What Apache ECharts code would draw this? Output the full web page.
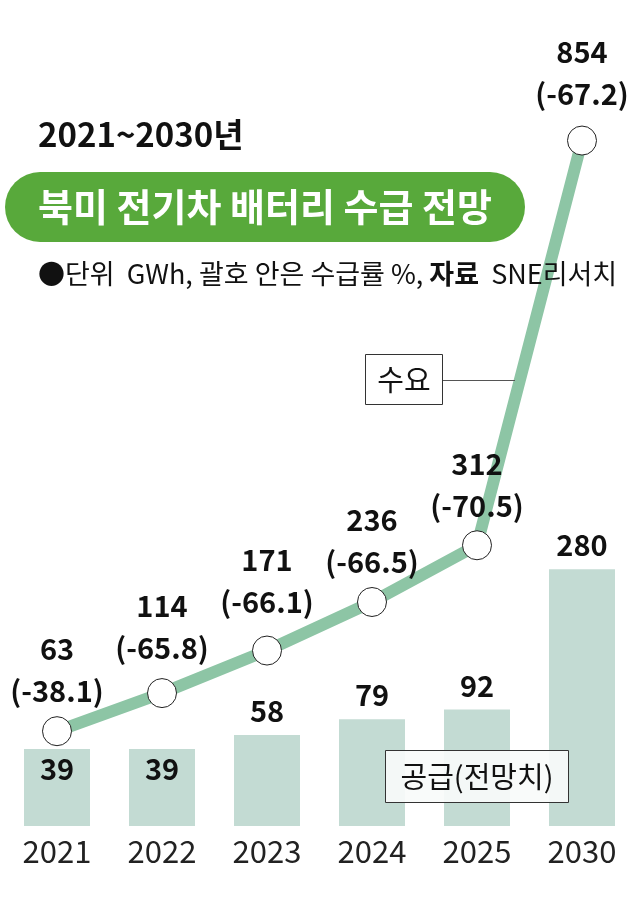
<!DOCTYPE html>
<html><head><meta charset="utf-8">
<script src="https://cdn.jsdelivr.net/npm/echarts@6/dist/echarts.min.js"></script>
<style>html,body{margin:0;padding:0;background:#fff}#c{width:640px;height:922px}</style>
</head><body><div id="c"></div>
<script>
const categories = ['2021', '2022', '2023', '2024', '2025', '2030'];
const demand = [63, 114, 171, 236, 312, 854];
const demandRate = ['-38.1', '-65.8', '-66.1', '-66.5', '-70.5', '-67.2'];
const supply = [39, 39, 58, 79, 92, 280];
const supplyLabelInside = [true, true, false, false, false, false];
const demandLabelGap = [4, 9, 13, 4, 3, 11];

const FONT = "'Noto Sans CJK KR', 'Noto Sans', sans-serif";
const chart = echarts.init(document.getElementById('c'), null, {renderer: 'canvas'});

const labelStyle = {fontFamily: FONT, fontWeight: 'bold', fontSize: 29, color: '#111', lineHeight: 42};

const option = {
  animation: false,
  backgroundColor: '#fff',
  grid: {left: 4.5, right: 5.5, top: 42, bottom: 96},
  xAxis: {
    type: 'category', data: categories,
    axisLine: {show: false}, axisTick: {show: false},
    axisLabel: {fontFamily: FONT, fontSize: 31, color: '#222', margin: 10}
  },
  yAxis: {type: 'value', min: -64, max: 986, startValue: -64, show: false, splitLine: {show: false}},
  series: [
    {
      type: 'bar', barWidth: 66, z: 1,
      itemStyle: {color: '#c3dbd3'},
      data: supply.map((v, i) => ({
        value: v,
        label: {show: true, position: supplyLabelInside[i] ? 'insideTop' : 'top',
                distance: supplyLabelInside[i] ? 3 : 7, ...labelStyle, lineHeight: 34}
      }))
    },
    {
      type: 'line', z: 3,
      data: demand.map((v, i) => ({
        value: v,
        label: {distance: demandLabelGap[i]}
      })),
      lineStyle: {color: '#8dc5a5', width: 12},
      symbol: 'circle', symbolSize: 29,
      itemStyle: {color: '#fff', borderColor: '#222', borderWidth: 1},
      label: {
        show: true, position: 'top', ...labelStyle,
        formatter: p => p.value + '\n(' + demandRate[p.dataIndex] + ')'
      }
    }
  ],
  graphic: [
    {type: 'text', left: 38, top: 118, z: 10,
     style: {text: '2021~2030년', fontFamily: FONT, fontWeight: 'bold', fontSize: 33, fill: '#111'}},
    {type: 'rect', shape: {x: 5, y: 172, width: 520, height: 70, r: 35}, style: {fill: '#58a93b'}, z: 10},
    {type: 'text', x: 38, y: 207, z: 11,
     style: {text: '북미 전기차 배터리 수급 전망', fontFamily: FONT, fontWeight: 'bold', fontSize: 38,
             fill: '#fff', verticalAlign: 'middle'}},
    {type: 'text', x: 38, y: 274, z: 11,
     style: {
       text: '{n|●단위  GWh, 괄호 안은 수급률 %, }{b|자료}{n|  SNE리서치}',
       verticalAlign: 'middle',
       rich: {
         n: {fontFamily: FONT, fontSize: 27, fill: '#111'},
         b: {fontFamily: FONT, fontSize: 27, fontWeight: 'bold', fill: '#111'}
       }
     }},
    {type: 'rect', shape: {x: 365.5, y: 354.5, width: 77, height: 50}, style: {fill: '#fff', stroke: '#333', lineWidth: 1}, z: 10},
    {type: 'text', x: 404, y: 380, z: 11,
     style: {text: '수요', fontFamily: FONT, fontSize: 29, fill: '#111', align: 'center', verticalAlign: 'middle'}},
    {type: 'line', shape: {x1: 443, y1: 380.5, x2: 515, y2: 380.5}, style: {stroke: '#555', lineWidth: 1.2}, z: 10},
    {type: 'rect', shape: {x: 385.5, y: 750.5, width: 183, height: 52}, style: {fill: 'rgba(248,251,250,0.92)', stroke: '#333', lineWidth: 1}, z: 10},
    {type: 'text', x: 477, y: 777, z: 11,
     style: {text: '공급(전망치)', fontFamily: FONT, fontSize: 29, fill: '#111', align: 'center', verticalAlign: 'middle'}}
  ]
};
chart.setOption(option);
</script>
</body></html>
